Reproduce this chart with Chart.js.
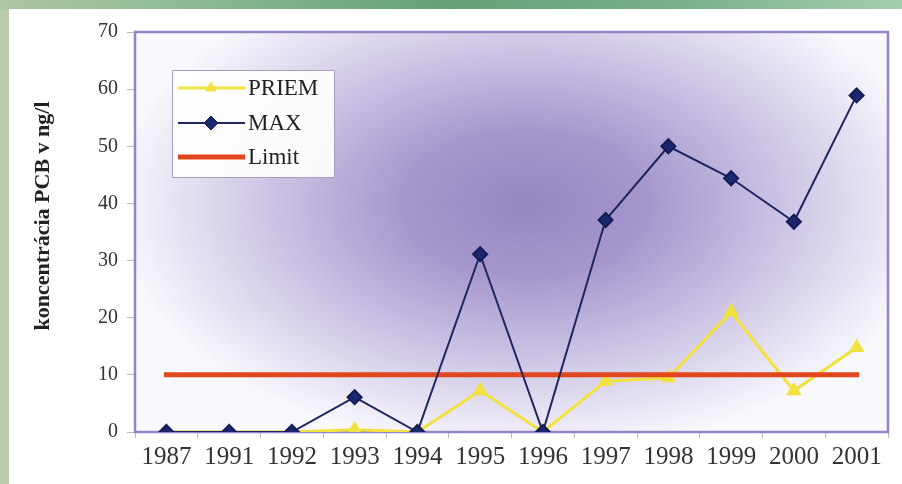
<!DOCTYPE html>
<html>
<head>
<meta charset="utf-8">
<script src="https://cdn.jsdelivr.net/npm/chart.js@4.4.1/dist/chart.umd.min.js"></script>
<style>
  html, body { margin: 0; padding: 0; background: #ffffff; }
  #wrap { position: relative; width: 902px; height: 484px; overflow: hidden; background: #ffffff; }
  #edgeLeft { position: absolute; left: 0; top: 0; width: 9px; height: 484px; background: #b8caa8; }
  #edgeTop { position: absolute; left: 0; top: 0; width: 902px; height: 9px;
    background: linear-gradient(90deg, #aec6a2 0%, #8fbb94 20%, #62a176 50%, #78b08a 75%, #a6cdb0 100%); }
  canvas { position: absolute; left: 0; top: 0; }
</style>
</head>
<body>
<div id="wrap">
  <div id="edgeLeft"></div>
  <div id="edgeTop"></div>
  <canvas id="c" width="902" height="484"></canvas>
</div>
<script>
// Years of measurement
const years = ['1987', '1991', '1992', '1993', '1994', '1995', '1996', '1997', '1998', '1999', '2000', '2001'];
// Average PCB concentration (ng/l)
const priem = [0, 0, 0, 0.4, 0, 7.2, 0, 8.9, 9.5, 21, 7.2, 14.8];
// Maximum PCB concentration (ng/l)
const maxVals = [0, 0, 0, 6.1, 0, 31.1, 0, 37.1, 50, 44.4, 36.8, 58.9];
// Permitted limit (ng/l)
const limit = [10, 10, 10, 10, 10, 10, 10, 10, 10, 10, 10, 10];
// Y axis range and step
const yMin = 0, yMax = 70, yStep = 10;
const yTitle = 'koncentrácia PCB v ng/l';

const serif = '"Liberation Serif", "Times New Roman", serif';

// Purple glow behind the plot area and its frame
const plotBackground = {
  id: 'plotBackground',
  beforeDraw(chart) {
    const { ctx, chartArea: a } = chart;
    const w = a.right - a.left, h = a.bottom - a.top;
    ctx.save();
    ctx.beginPath();
    ctx.rect(a.left, a.top, w, h);
    ctx.clip();
    ctx.fillStyle = '#faf9fc';
    ctx.fillRect(a.left, a.top, w, h);
    const cx = a.left + w * 0.52, cy = a.top + h * 0.43;
    const rx = w * 0.55, ry = h * 0.62;
    ctx.translate(cx, cy);
    ctx.scale(rx / ry, 1);
    const g = ctx.createRadialGradient(0, 0, 0, 0, 0, ry);
    g.addColorStop(0, 'rgb(150,134,195)');
    g.addColorStop(0.3, 'rgb(166,152,205)');
    g.addColorStop(0.65, 'rgb(208,200,230)');
    g.addColorStop(1, 'rgb(249,248,252)');
    ctx.fillStyle = g;
    ctx.fillRect(-ry * 2, -ry * 2, ry * 4, ry * 4);
    ctx.restore();
  },
  beforeDatasetsDraw(chart) {
    const { ctx, chartArea: a } = chart;
    ctx.save();
    ctx.strokeStyle = '#9583c4';
    ctx.lineWidth = 2.5;
    ctx.strokeRect(a.left, a.top, a.right - a.left, a.bottom - a.top);
    ctx.restore();
  }
};

// Rotated axis title, set a little above the axis middle
const axisTitle = {
  id: 'axisTitle',
  afterDraw(chart) {
    const { ctx } = chart;
    ctx.save();
    ctx.translate(43, 216);
    ctx.rotate(-Math.PI / 2);
    ctx.fillStyle = '#222222';
    ctx.font = 'bold 22px ' + serif;
    ctx.textAlign = 'center';
    ctx.textBaseline = 'middle';
    ctx.fillText(yTitle, 0, 0);
    ctx.restore();
  }
};

// Boxed legend inside the plot area
const boxLegend = {
  id: 'boxLegend',
  afterDatasetsDraw(chart) {
    const { ctx } = chart;
    const x = 172, y = 70, w = 162, h = 107;
    ctx.save();
    ctx.fillStyle = 'rgba(255,255,255,0.92)';
    ctx.fillRect(x, y, w, h);
    ctx.strokeStyle = '#a89cc4';
    ctx.lineWidth = 1;
    ctx.strokeRect(x + 0.5, y + 0.5, w, h);
    const rows = [88, 123, 157];
    chart.data.datasets.forEach((ds, i) => {
      const ry = rows[i];
      ctx.strokeStyle = ds.borderColor;
      ctx.lineWidth = ds.borderWidth;
      ctx.beginPath();
      ctx.moveTo(178, ry);
      ctx.lineTo(245, ry);
      ctx.stroke();
      if (ds.pointRadius > 0) {
        ctx.fillStyle = ds.pointBackgroundColor;
        ctx.strokeStyle = ds.pointBorderColor;
        ctx.lineWidth = 1;
        Chart.helpers.drawPoint(ctx, {
          pointStyle: ds.pointStyle, radius: ds.pointRadius, borderWidth: 1
        }, 211, ry);
      }
      ctx.fillStyle = '#222222';
      ctx.font = '23px ' + serif;
      ctx.textBaseline = 'middle';
      ctx.textAlign = 'left';
      ctx.fillText(ds.label, 248, ry + 1);
    });
    ctx.restore();
  }
};

new Chart(document.getElementById('c'), {
  type: 'line',
  data: {
    labels: years,
    datasets: [
      {
        label: 'PRIEM', data: priem, order: 2,
        borderColor: '#f2e23e', borderWidth: 3,
        pointStyle: 'triangle', pointRadius: 6,
        pointBackgroundColor: '#f2e23e', pointBorderColor: '#f2e23e',
        tension: 0
      },
      {
        label: 'MAX', data: maxVals, order: 0,
        borderColor: '#1f2560', borderWidth: 2,
        pointStyle: 'rectRot', pointRadius: 7,
        pointBackgroundColor: '#1b2870', pointBorderColor: '#141c55',
        tension: 0
      },
      {
        label: 'Limit', data: limit, order: 1,
        borderColor: '#e2461c', borderWidth: 5, borderCapStyle: 'square',
        pointRadius: 0, tension: 0
      }
    ]
  },
  options: {
    responsive: false,
    animation: false,
    devicePixelRatio: 1,
    layout: { padding: { top: 32, right: 14, bottom: 0, left: 0 } },
    plugins: {
      legend: { display: false },
      tooltip: { enabled: false }
    },
    scales: {
      x: {
        offset: true,
        grid: { offset: true, drawOnChartArea: false, drawTicks: true, tickLength: 6, color: '#b9b9c4' },
        border: { display: false },
        ticks: { color: '#333333', font: { family: serif, size: 25 }, padding: 4, maxRotation: 0, autoSkip: false },
        afterFit(scale) { scale.height = 52; }
      },
      y: {
        min: yMin, max: yMax,
        grid: { drawOnChartArea: false, drawTicks: true, tickLength: 8, color: '#b9b9c4' },
        border: { display: false },
        ticks: { stepSize: yStep, color: '#333333', font: { family: serif, size: 20 }, padding: 9 },
        afterFit(scale) { scale.width = 135; }
      }
    }
  },
  plugins: [plotBackground, axisTitle, boxLegend]
});
</script>
</body>
</html>
